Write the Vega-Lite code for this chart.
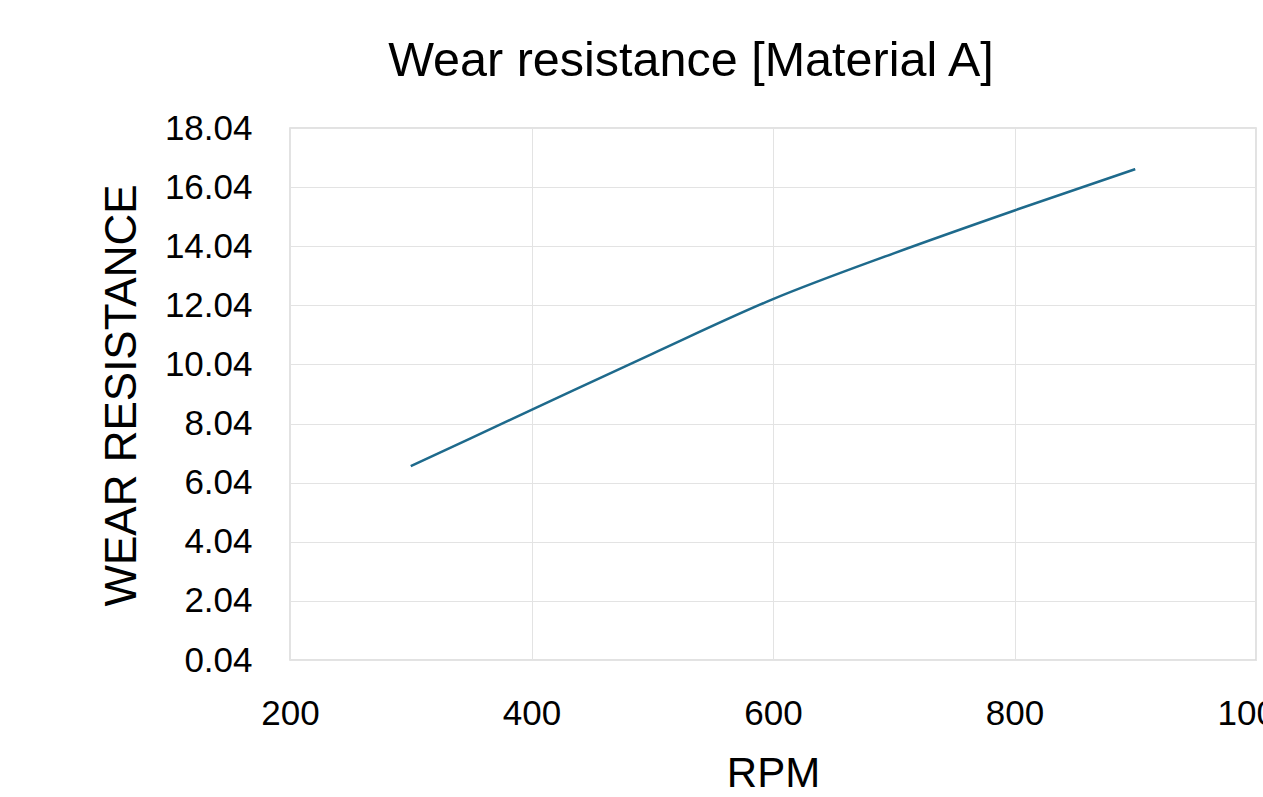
{
  "$schema": "https://vega.github.io/schema/vega-lite/v6.json",
  "autosize": {"type": "none"},
  "width": 966,
  "height": 532,
  "padding": {"left": 290, "top": 128, "right": 7, "bottom": 137},
  "background": "white",
  "title": {
    "text": "Wear resistance [Material A]",
    "font": "Liberation Sans",
    "fontSize": 48.5,
    "fontWeight": "normal",
    "color": "#000000",
    "anchor": "middle",
    "frame": "group",
    "dx": -82,
    "dy": 63,
    "baseline": "bottom",
    "offset": 40
  },
  "data": {
    "values": [
      {"rpm": 300, "wear": 6.6},
      {"rpm": 400, "wear": 8.5},
      {"rpm": 500, "wear": 10.4},
      {"rpm": 600, "wear": 12.25},
      {"rpm": 700, "wear": 13.8},
      {"rpm": 800, "wear": 15.25},
      {"rpm": 900, "wear": 16.65}
    ]
  },
  "mark": {"type": "line", "color": "#1e6a8c", "strokeWidth": 2.5, "interpolate": "monotone"},
  "encoding": {
    "x": {
      "field": "rpm",
      "type": "quantitative",
      "scale": {"domain": [200, 1000], "nice": false, "zero": false},
      "axis": {
        "title": "RPM",
        "values": [200, 400, 600, 800, 1000],
        "format": "d",
        "titleX": 483,
        "titleY": 113,
        "titleBaseline": "middle",
        "titleAlign": "center"
      }
    },
    "y": {
      "field": "wear",
      "type": "quantitative",
      "scale": {"domain": [0.04, 18.04], "nice": false, "zero": false},
      "axis": {
        "title": "WEAR RESISTANCE",
        "values": [0.04, 2.04, 4.04, 6.04, 8.04, 10.04, 12.04, 14.04, 16.04, 18.04],
        "format": ".2f",
        "titleAngle": -90,
        "titleX": -168,
        "titleY": 267,
        "titleAlign": "center",
        "titleBaseline": "middle"
      }
    }
  },
  "config": {
    "view": {"stroke": "#d9d9d9", "strokeWidth": 1.5},
    "axis": {
      "domain": false,
      "ticks": false,
      "grid": true,
      "gridColor": "#e3e3e3",
      "gridWidth": 1,
      "labelFont": "Liberation Sans",
      "labelFontSize": 35,
      "labelColor": "#000000",
      "titleFont": "Liberation Sans",
      "titleFontWeight": "normal",
      "titleColor": "#000000",
      "labelOverlap": false,
      "labelBound": false,
      "labelFlush": false
    },
    "axisX": {"labelPadding": 36, "titleFontSize": 42},
    "axisY": {"labelPadding": 38, "titleFontSize": 44}
  }
}
